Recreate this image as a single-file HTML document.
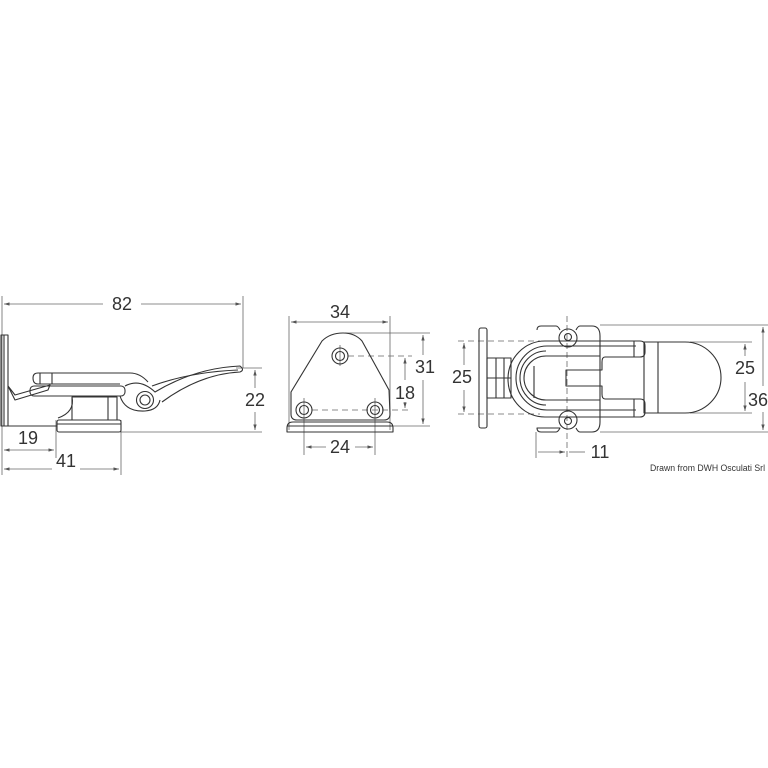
<!DOCTYPE html>
<html><head><meta charset="utf-8"><style>html,body{margin:0;padding:0;background:#fff}svg{display:block}</style></head>
<body>
<svg width="768" height="768" viewBox="0 0 768 768" xmlns="http://www.w3.org/2000/svg" font-family="Liberation Sans, sans-serif">
<defs>
<marker id="a" viewBox="0 0 10 10" refX="10" refY="5" markerWidth="7" markerHeight="7" orient="auto-start-reverse"><path d="M0,2 L10,5 L0,8 z" fill="#555"/></marker>
</defs>
<g stroke="#666" stroke-width="0.8" fill="none">
<line x1="2" y1="296" x2="2" y2="475"/>
<line x1="243" y1="296" x2="243" y2="368"/>
<line x1="4" y1="304" x2="103" y2="304" marker-start="url(#a)"/>
<line x1="141" y1="304" x2="241" y2="304" marker-end="url(#a)"/>
<line x1="236" y1="368" x2="262" y2="368"/>
<line x1="120" y1="432" x2="262" y2="432"/>
<line x1="255" y1="370" x2="255" y2="388" marker-start="url(#a)"/>
<line x1="255" y1="412" x2="255" y2="430" marker-end="url(#a)"/>
<line x1="56" y1="420" x2="56" y2="458"/>
<line x1="121" y1="420" x2="121" y2="475"/>
<line x1="4" y1="450" x2="54" y2="450" marker-start="url(#a)" marker-end="url(#a)"/>
<line x1="4" y1="469" x2="52" y2="469" marker-start="url(#a)"/>
<line x1="80" y1="469" x2="119" y2="469" marker-end="url(#a)"/>
<line x1="289" y1="316" x2="289" y2="430"/>
<line x1="390" y1="316" x2="390" y2="430"/>
<line x1="291" y1="322" x2="388" y2="322" marker-start="url(#a)" marker-end="url(#a)"/>
<line x1="345" y1="333" x2="430" y2="333"/>
<line x1="393" y1="426" x2="430" y2="426"/>
<line x1="423" y1="335" x2="423" y2="355" marker-start="url(#a)"/>
<line x1="423" y1="380" x2="423" y2="424" marker-end="url(#a)"/>
<line x1="348" y1="356" x2="412" y2="356" stroke-dasharray="6 4"/>
<line x1="312" y1="410" x2="412" y2="410" stroke-dasharray="6 4"/>
<line x1="405" y1="358" x2="405" y2="380" marker-start="url(#a)"/>
<line x1="405" y1="402" x2="405" y2="408" marker-end="url(#a)"/>
<line x1="304" y1="398" x2="304" y2="455"/>
<line x1="375" y1="398" x2="375" y2="455"/>
<line x1="340" y1="345" x2="340" y2="366"/>
<line x1="306" y1="447" x2="326" y2="447" marker-start="url(#a)"/>
<line x1="355" y1="447" x2="373" y2="447" marker-end="url(#a)"/>
<line x1="458" y1="341" x2="540" y2="341" stroke-dasharray="6 4"/>
<line x1="458" y1="414" x2="540" y2="414" stroke-dasharray="6 4"/>
<line x1="464" y1="343" x2="464" y2="365" marker-start="url(#a)"/>
<line x1="464" y1="390" x2="464" y2="412" marker-end="url(#a)"/>
<line x1="690" y1="342" x2="752" y2="342"/>
<line x1="690" y1="413" x2="752" y2="413"/>
<line x1="600" y1="325" x2="768" y2="325"/>
<line x1="600" y1="432" x2="768" y2="432"/>
<line x1="745" y1="344" x2="745" y2="356" marker-start="url(#a)"/>
<line x1="745" y1="382" x2="745" y2="411" marker-end="url(#a)"/>
<line x1="763" y1="327" x2="763" y2="386" marker-start="url(#a)"/>
<line x1="763" y1="412" x2="763" y2="430" marker-end="url(#a)"/>
<line x1="536" y1="432" x2="536" y2="458"/>
<line x1="567" y1="316" x2="567" y2="458" stroke-dasharray="6 3"/>
<line x1="538" y1="452" x2="565" y2="452" marker-end="url(#a)"/>
<line x1="569" y1="452" x2="585" y2="452"/>
</g>
<g stroke="#333" stroke-width="1.1" fill="none" stroke-linejoin="round">
<rect x="1" y="335" width="7" height="91"/>
<line x1="4" y1="335" x2="4" y2="426"/>
<path d="M8,426 H57"/>
<path d="M8,386 L15,400 L48,390 L50,385 L15,395 Z"/>
<rect x="57" y="420" width="64" height="12" rx="2"/>
<line x1="57" y1="424" x2="121" y2="424"/>
<path d="M72,397 Q75,412 58,418"/>
<rect x="72" y="397" width="45" height="23"/>
<line x1="108" y1="397" x2="108" y2="420"/>
<path d="M33,378 Q33,373 38,373 H130 Q140,373 148,382"/>
<path d="M33,378 Q33,384 38,384 H120"/>
<rect x="30" y="386" width="95" height="10" rx="4"/>
<line x1="40" y1="373" x2="40" y2="384"/>
<line x1="52" y1="373" x2="52" y2="384"/>
<path d="M125,386 Q140,378 155,392 Q195,368 240,366 Q245,370 240,372 Q200,374 162,402"/>
<path d="M152,386 Q190,372 238,370"/>
<circle cx="145" cy="400" r="8.5"/>
<circle cx="145" cy="400" r="5"/>
<path d="M120,396 Q125,412 145,411 Q158,410 160,400"/>
<path d="M291,392 L322,341 Q330,333 343,333 Q355,333 362,341 L389,390 L390,414 Q390,420 384,420 H297 Q291,420 291,414 Z"/>
<path d="M287,428 Q287,422 293,422 H387 Q393,422 393,428 V432 H287 Z"/>
<line x1="287" y1="426" x2="393" y2="426"/>
<circle cx="340" cy="356" r="8"/><circle cx="340" cy="356" r="4.5"/>
<circle cx="304" cy="410" r="8"/><circle cx="304" cy="410" r="4.5"/>
<circle cx="375" cy="410" r="8"/><circle cx="375" cy="410" r="4.5"/>
<rect x="479" y="328" width="8" height="100" rx="2"/>
<rect x="487" y="358" width="24" height="40"/>
<line x1="496" y1="358" x2="496" y2="398"/><line x1="504" y1="358" x2="504" y2="398"/>
<line x1="487" y1="378" x2="511" y2="378"/>
<path d="M537,330 Q537,326 541,326 H556 Q558,326 560,330 M576,330 Q578,326 580,326 H592 Q600,326 600,336 V422 Q600,432 592,432 H580 Q578,432 576,428 M560,428 Q558,432 556,432 H541 Q537,432 537,428 Z"/>
<circle cx="568" cy="338" r="9"/><circle cx="568" cy="337" r="3.5"/>
<circle cx="568" cy="420" r="9"/><circle cx="568" cy="421" r="3.5"/>
<path d="M640,341 H545 A37 38 0 0 0 545,417 H640"/>
<path d="M636,346 H547 A31 32 0 0 0 547,410 H636"/>
<path d="M600,356 H546 A22 22 0 0 0 546,400 H600"/>
<path d="M546,351 A26 27 0 0 0 546,405"/>
<path d="M640,341 Q645,341 645,346 V352 Q645,357 640,357 H605 Q602,357 602,362 V370 H566 V386 H602 V394 Q602,399 605,399 H640 Q645,399 645,404 V412 Q645,417 640,417"/>
<line x1="634" y1="341" x2="634" y2="357"/><line x1="634" y1="399" x2="634" y2="417"/>
<line x1="534" y1="366" x2="534" y2="398"/>
<path d="M644,342 H685 A36 35.5 0 0 1 685,413 H644 Z"/>
<line x1="658" y1="342" x2="658" y2="413"/>
</g>
<g fill="#333" font-size="18">
<text x="122" y="310" text-anchor="middle">82</text>
<text x="255" y="406" text-anchor="middle">22</text>
<text x="28" y="444" text-anchor="middle">19</text>
<text x="66" y="467" text-anchor="middle">41</text>
<text x="340" y="318" text-anchor="middle">34</text>
<text x="425" y="373" text-anchor="middle">31</text>
<text x="405" y="399" text-anchor="middle">18</text>
<text x="340" y="453" text-anchor="middle">24</text>
<text x="462" y="383" text-anchor="middle">25</text>
<text x="745" y="374" text-anchor="middle">25</text>
<text x="768" y="406" text-anchor="end">36</text>
<text x="600" y="458" text-anchor="middle">11</text>
<text x="650" y="471" font-size="9" textLength="115" lengthAdjust="spacingAndGlyphs">Drawn from DWH Osculati Srl</text>
</g>
</svg>
</body></html>
